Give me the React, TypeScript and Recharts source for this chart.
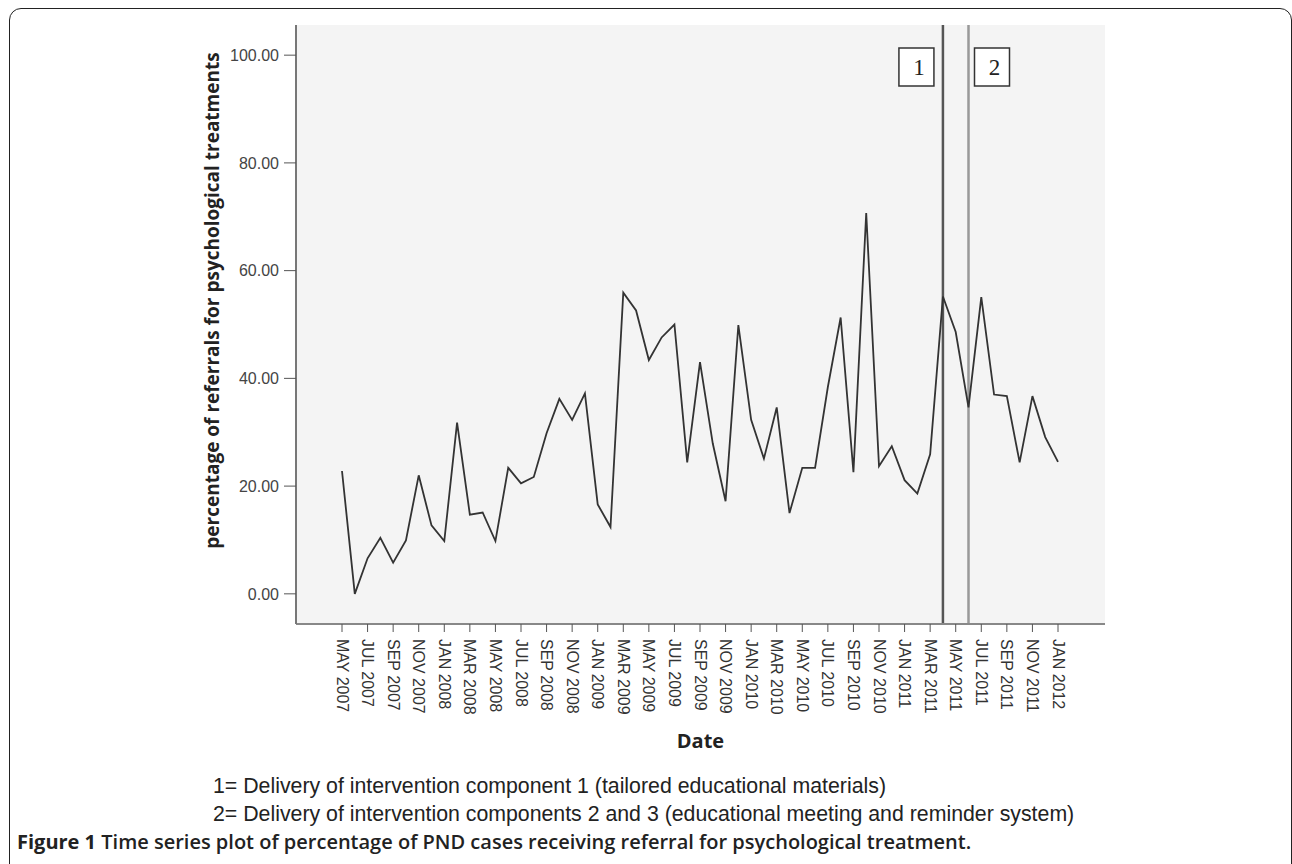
import React from "react";
import {
  LineChart,
  Line,
  XAxis,
  YAxis,
  CartesianGrid,
  ReferenceLine,
} from "recharts";

const months = [
  "MAY 2007", "JUN 2007", "JUL 2007", "AUG 2007", "SEP 2007", "OCT 2007", "NOV 2007", "DEC 2007",
  "JAN 2008", "FEB 2008", "MAR 2008", "APR 2008", "MAY 2008", "JUN 2008", "JUL 2008", "AUG 2008",
  "SEP 2008", "OCT 2008", "NOV 2008", "DEC 2008",
  "JAN 2009", "FEB 2009", "MAR 2009", "APR 2009", "MAY 2009", "JUN 2009", "JUL 2009", "AUG 2009",
  "SEP 2009", "OCT 2009", "NOV 2009", "DEC 2009",
  "JAN 2010", "FEB 2010", "MAR 2010", "APR 2010", "MAY 2010", "JUN 2010", "JUL 2010", "AUG 2010",
  "SEP 2010", "OCT 2010", "NOV 2010", "DEC 2010",
  "JAN 2011", "FEB 2011", "MAR 2011", "APR 2011", "MAY 2011", "JUN 2011", "JUL 2011", "AUG 2011",
  "SEP 2011", "OCT 2011", "NOV 2011", "DEC 2011",
  "JAN 2012",
];

const referralPct = [
  22.8, 0.0, 6.6, 10.4, 5.8, 9.9, 22.0, 12.7,
  9.8, 31.8, 14.7, 15.1, 9.8, 23.4, 20.5, 21.7,
  29.8, 36.2, 32.3, 37.2,
  16.6, 12.4, 55.9, 52.6, 43.4, 47.6, 50.0, 24.4,
  43.0, 27.9, 17.2, 49.9,
  32.3, 25.1, 34.6, 15.0, 23.4, 23.4, 38.4, 51.3,
  22.6, 70.7, 23.7, 27.4,
  21.1, 18.6, 25.9, 55.2, 48.6, 34.6, 55.1, 37.0,
  36.7, 24.4, 36.7, 29.1,
  24.5,
];

const yTicks = [0, 20, 40, 60, 80, 100];

const interventions = [
  { month: "APR 2011", key: "1", color: "#555", side: "left" },
  { month: "JUN 2011", key: "2", color: "#999", side: "right" },
];

const legendLines = [
  "1= Delivery of intervention component 1 (tailored educational materials)",
  "2= Delivery of intervention components 2 and 3 (educational meeting and reminder system)",
];

const data = months.map((m, i) => ({ month: m, pct: referralPct[i] }));

const sans = "'Liberation Sans', Arial, sans-serif";
const bold = "'Open Sans', 'Noto Sans', sans-serif";

const MonthTick = (props: any) => {
  const { x, y, payload } = props;
  return (
    <text
      x={x + 5}
      y={y}
      transform={`rotate(90, ${x}, ${y})`}
      textAnchor="start"
      dominantBaseline="central"
      fontSize={16}
      fontFamily={sans}
      fill="#333"
    >
      {payload.value}
    </text>
  );
};

const BoxLabel = (props: any) => {
  const { viewBox, text, side } = props;
  const vx = viewBox.x;
  const bx = side === "left" ? vx - 44 : vx + 6;
  const by = viewBox.y + 23;
  return (
    <g>
      <rect x={bx} y={by} width={35} height={38} fill="#fff" stroke="#333" strokeWidth={1.5} />
      <text
        x={bx + 20}
        y={by + 27}
        textAnchor="middle"
        fontSize={23}
        fontFamily="'Liberation Serif', 'DejaVu Serif', serif"
        fill="#222"
      >
        {text}
      </text>
    </g>
  );
};

// axis title sits a little above the middle of the y axis, as in the original
const YTitle = (props: any) => {
  const { viewBox } = props;
  const cx = viewBox.x + 16;
  const cy = viewBox.y + viewBox.height / 2 - 24;
  return (
    <text
      x={cx}
      y={cy}
      transform={`rotate(-90, ${cx}, ${cy})`}
      textAnchor="middle"
      dominantBaseline="central"
      fontSize={19}
      fontWeight={700}
      fontFamily={bold}
      fill="#222"
    >
      percentage of referrals for psychological treatments
    </text>
  );
};

const XTitle = (props: any) => {
  const { viewBox } = props;
  return (
    <text
      x={viewBox.x + viewBox.width / 2}
      y={viewBox.y + 124}
      textAnchor="middle"
      fontSize={20}
      fontWeight={700}
      fontFamily={bold}
      fill="#222"
    >
      Date
    </text>
  );
};

export default function App() {
  return (
    <div
      style={{
        position: "absolute",
        left: 0,
        top: 0,
        width: 1292,
        height: 864,
        overflow: "hidden",
        background: "#fff",
      }}
    >
      <div
        style={{
          position: "absolute",
          left: 9,
          top: 8,
          width: 1281,
          height: 1000,
          border: "1.5px solid #222",
          borderRadius: 12,
        }}
      />
      <div style={{ position: "absolute", left: 0, top: 0 }}>
        <LineChart
          width={1292}
          height={864}
          data={data}
          margin={{ top: 25, right: 187, bottom: 110, left: 196 }}
        >
          <CartesianGrid fill="#f4f4f4" horizontal={false} vertical={false} />
          <XAxis
            dataKey="month"
            interval={1}
            height={130}
            padding={{ left: 46, right: 47 }}
            tickSize={8}
            tickLine={{ stroke: "#555" }}
            axisLine={{ stroke: "#888", strokeWidth: 2 }}
            tick={<MonthTick />}
            label={<XTitle />}
          />
          <XAxis
            xAxisId="top"
            orientation="top"
            dataKey="month"
            height={0}
            tick={false}
            tickLine={false}
            axisLine={{ stroke: "#999", strokeWidth: 2 }}
          />
          <YAxis
            type="number"
            domain={[-5.6, 105.6]}
            ticks={yTicks}
            width={100}
            tickSize={12}
            tickMargin={5}
            tickFormatter={(v: number) => v.toFixed(2)}
            tick={{ fontSize: 16, fontFamily: sans, fill: "#444" }}
            tickLine={{ stroke: "#555" }}
            axisLine={{ stroke: "#777", strokeWidth: 2 }}
            label={<YTitle />}
          />
          <YAxis
            yAxisId="right"
            orientation="right"
            type="number"
            domain={[-5.6, 105.6]}
            width={0}
            tick={false}
            tickLine={false}
            axisLine={{ stroke: "#999", strokeWidth: 2 }}
          />
          {interventions.map((iv) => (
            <ReferenceLine
              key={iv.key}
              x={iv.month}
              stroke={iv.color}
              strokeWidth={2.5}
              label={<BoxLabel text={iv.key} side={iv.side} />}
            />
          ))}
          <Line
            type="linear"
            dataKey="pct"
            stroke="#333"
            strokeWidth={1.8}
            dot={false}
            activeDot={false}
            isAnimationActive={false}
          />
        </LineChart>
      </div>
      {legendLines.map((t, i) => (
        <div
          key={i}
          style={{
            position: "absolute",
            left: 213,
            top: 772 + i * 28,
            fontFamily: sans,
            fontSize: 21.3,
            lineHeight: "28px",
            color: "#222",
            whiteSpace: "nowrap",
          }}
        >
          {t}
        </div>
      ))}
      <div
        style={{
          position: "absolute",
          left: 17,
          top: 828,
          fontFamily: "'Open Sans', sans-serif",
          fontSize: 20,
          lineHeight: "28px",
          color: "#222",
          whiteSpace: "nowrap",
        }}
      >
        <span style={{ fontWeight: 700 }}>Figure 1</span>
        <span style={{ fontWeight: 600 }}> Time series plot of percentage of PND cases receiving referral for psychological treatment.</span>
      </div>
    </div>
  );
}
